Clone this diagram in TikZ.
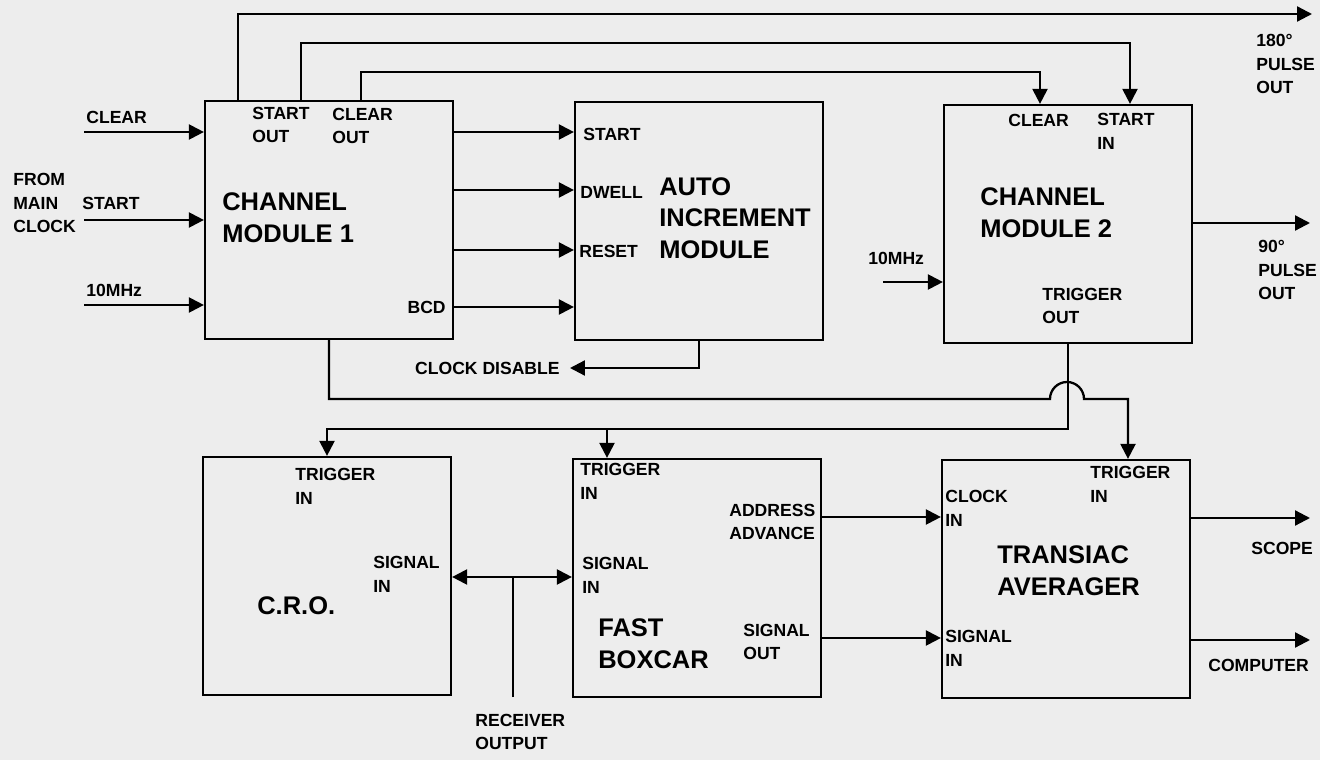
\documentclass[tikz,border=0pt]{standalone}
\usepackage{fontspec}
\setmainfont{Liberation Sans}
\usetikzlibrary{arrows.meta,positioning}

\begin{document}
\begin{tikzpicture}[x=0.02cm, y=-0.02cm,
  blk/.style={draw, line width=1.3pt, minimum width=4.96cm, minimum height=4.76cm, inner sep=0},
  lbl/.style={font=\bfseries\fontsize{10}{13.6}\selectfont, align=left, inner sep=0, anchor=west},
  ttl/.style={font=\bfseries\fontsize{14.5}{18}\selectfont, align=left, inner sep=0, anchor=west},
  wire/.style={line width=1.3pt},
  sig/.style={wire, -{Triangle[length=8.5pt,width=8.5pt]}}]

\definecolor{paper}{HTML}{EDEDED}
\fill[paper] (0,0) rectangle (1320,760);
\useasboundingbox (0,0) rectangle (1320,760);

% blocks
\node[blk] (cma) at (329,220) {};
\node[blk] (aim) at (699,221) {};
\node[blk] (cmb) at (1068,224) {};
\node[blk] (cro) at (327,576) {};
\node[blk] (box) at (697,578) {};
\node[blk] (avg) at (1066,579) {};

% block titles
\node[ttl] (cmat) at (222,218) {CHANNEL\\MODULE 1};
\node[ttl] (aimt) at (659,218) {AUTO\\INCREMENT\\MODULE};
\node[ttl] (cmbt) at (980,213) {CHANNEL\\MODULE 2};
\node[ttl] (crot) at (257,606) {C.R.O.};
\node[ttl] (boxt) at (598,644) {FAST\\BOXCAR};
\node[ttl] (avgt) at (997,571) {TRANSIAC\\AVERAGER};

% port labels
\node[lbl] (cmaso) at (252,125) {START\\OUT};
\node[lbl] (cmaco) at (332,126) {CLEAR\\OUT};
\node[lbl, anchor=east] (cmabcd) at (446,307) {BCD};
\node[lbl] (aims) at (583,134) {START};
\node[lbl] (aimd) at (580,192) {DWELL};
\node[lbl] (aimr) at (579,251) {RESET};
\node[lbl] (cmbc) at (1008,120) {CLEAR};
\node[lbl] (cmbs) at (1097,131) {START\\IN};
\node[lbl] (cmbto) at (1042,306) {TRIGGER\\OUT};
\node[lbl] (crotr) at (295,486) {TRIGGER\\IN};
\node[lbl] (crosi) at (373,574) {SIGNAL\\IN};
\node[lbl] (boxtr) at (580,481) {TRIGGER\\IN};
\node[lbl] (boxad) at (729,522) {ADDRESS\\ADVANCE};
\node[lbl] (boxsi) at (582,575) {SIGNAL\\IN};
\node[lbl] (boxso) at (743,642) {SIGNAL\\OUT};
\node[lbl] (avgck) at (945,508) {CLOCK\\IN};
\node[lbl] (avgtr) at (1090,484) {TRIGGER\\IN};
\node[lbl] (avgsi) at (945,648) {SIGNAL\\IN};

% outside labels
\node[lbl] (fmc) at (13,203) {FROM\\MAIN\\CLOCK};
\node[lbl] (lclr) at (86,117) {CLEAR};
\node[lbl] (lstart) at (82,203) {START};
\node[lbl] (lmhza) at (86,290) {10MHz};
\node[lbl] (lmhzb) at (868,258) {10MHz};
\node[lbl, anchor=east] (clkdis) at (560,368) {CLOCK DISABLE};
\node[lbl] (l180) at (1256,64) {180°\\PULSE\\OUT};
\node[lbl] (l90) at (1258,270) {90°\\PULSE\\OUT};
\node[lbl] (lscope) at (1251,548) {SCOPE};
\node[lbl] (lcomp) at (1208,665) {COMPUTER};
\node[lbl] (lrcv) at (475,732) {RECEIVER\\OUTPUT};

% free ends
\coordinate (inclr) at (84,132);
\coordinate (instart) at (84,220);
\coordinate (inclka) at (84,305);
\coordinate (inclkb) at (883,282);
\coordinate (out180) at (1312,14);
\coordinate (out90) at (1310,223);
\coordinate (outscope) at (1310,518);
\coordinate (outcomp) at (1310,640);
\coordinate (rcv) at (513,697);

% connectors
\draw[sig] (inclr) -- (inclr -| cma.west);
\draw[sig] (instart) -- (instart -| cma.west);
\draw[sig] (inclka) -- (inclka -| cma.west);
\foreach \yy in {132,190,250,307}
  \draw[sig] (cma.east |- 0,\yy) -- (aim.west |- 0,\yy);
\draw[sig] (aim.south) |- ([xshift=0.2cm]clkdis.east);

\draw[sig] (cma.north -| 238,0) |- (out180);
\draw[sig] (cma.north -| 301,0) |- (1130,43) -- (cmb.north -| 1130,0);
\draw[sig] (cma.north -| 361,0) |- (1040,72) -- (cmb.north -| 1040,0);
\draw[sig] (inclkb) -- (inclkb -| cmb.west);
\draw[sig] (cmb.east |- 0,223) -- (out90);

\draw[sig] (cma.south) |- (1050,399) arc[start angle=180, end angle=360, radius=17]
  -- (1128,399) -- (avg.north -| 1128,0);
\draw[sig] (cmb.south) |- (cro.north |- 0,429) -- (cro.north);
\draw[sig] (607,429) -- (box.north -| 607,0);

\draw[wire, {Triangle[length=8.5pt,width=8.5pt]}-{Triangle[length=8.5pt,width=8.5pt]}]
  (cro.east |- 0,577) -- (box.west |- 0,577);
\draw[wire] (rcv) -- (rcv |- 0,577);
\draw[sig] (box.east |- 0,517) -- (avg.west |- 0,517);
\draw[sig] (box.east |- 0,638) -- (avg.west |- 0,638);
\draw[sig] (avg.east |- 0,518) -- (outscope);
\draw[sig] (avg.east |- 0,640) -- (outcomp);

\end{tikzpicture}
\end{document}
